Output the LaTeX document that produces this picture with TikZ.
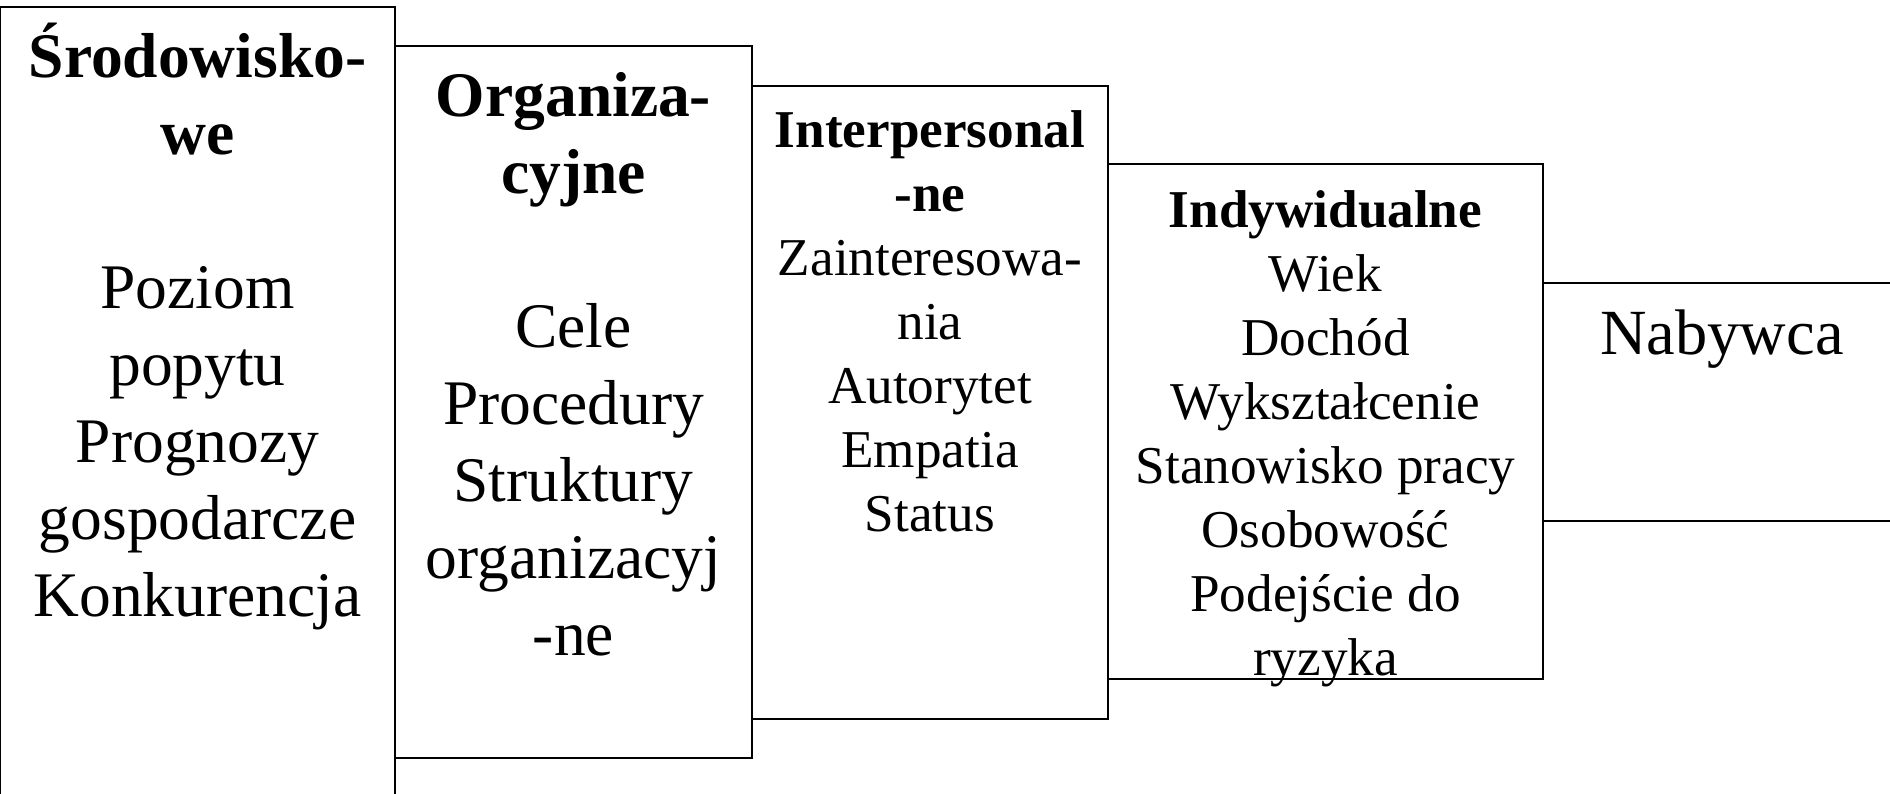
\documentclass[tikz,border=0pt]{standalone}
\usepackage{fontspec}
\setmainfont{Liberation Serif}
\begin{document}
\begin{tikzpicture}[x=0.5pt,y=-0.5pt,
  frame/.style={draw=black,line width=0.85pt},
  bigtext/.style={align=center,anchor=base,inner sep=0pt,font=\fontsize{31.75}{38.5}\selectfont},
  smalltext/.style={align=center,anchor=base,inner sep=0pt,font=\fontsize{26.6}{32}\selectfont}]
\useasboundingbox (0,0) rectangle (1890,793);
% stepped frames, from the widest environment level down to the buyer
\draw[frame] (0,7) rectangle (395,830);
\draw[frame] (395,46) rectangle (752,758);
\draw[frame] (752,86) rectangle (1108,719);
\draw[frame] (1108,164) rectangle (1543,679);
\draw[frame] (1543,283) rectangle (1910,521);
% texts (each node sits on the baseline of its last line)
\node[bigtext] (env) at (197.5,616) {\textbf{Środowisko-}\\\textbf{we}\\[38.5pt]Poziom\\popytu\\Prognozy\\gospodarcze\\Konkurencja};
\node[bigtext] (org) at (573.5,655) {\textbf{Organiza-}\\\textbf{cyjne}\\[38.5pt]Cele\\Procedury\\Struktury\\organizacyj\\-ne};
\node[smalltext] (inter) at (930,531) {\textbf{Interpersonal}\\\textbf{-ne}\\Zainteresowa-\\nia\\Autorytet\\Empatia\\Status};
\node[smalltext] (indiv) at (1325.5,675) {\textbf{Indywidualne}\\Wiek\\Dochód\\Wykształcenie\\Stanowisko pracy\\Osobowość\\Podejście do\\ryzyka};
\node[bigtext,font=\fontsize{32.2}{38.5}\selectfont] (buyer) at (1722,354) {Nabywca};
\end{tikzpicture}
\end{document}
